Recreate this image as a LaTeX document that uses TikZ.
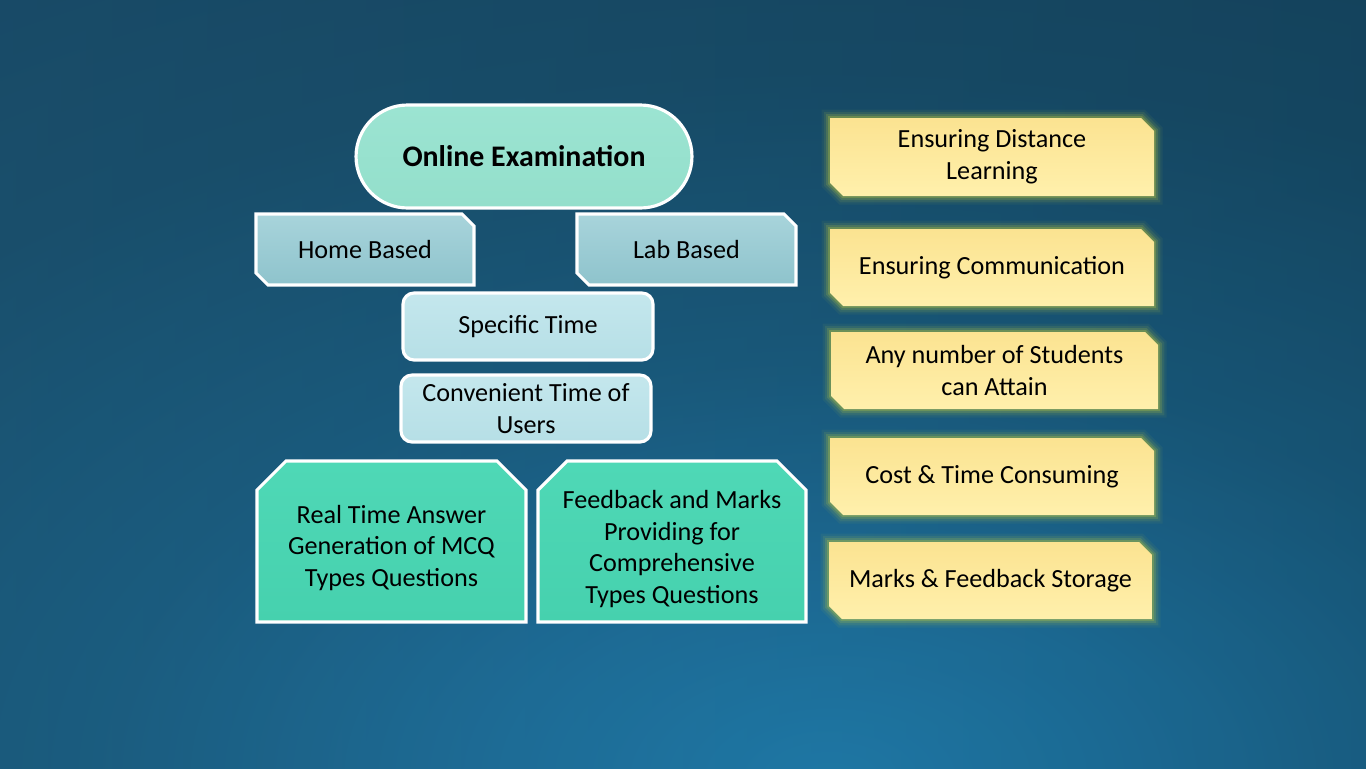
\documentclass[tikz,border=0pt]{standalone}
\usepackage{fontspec}
\setmainfont{Carlito}
\usetikzlibrary{shapes.misc}
\definecolor{bgBase}{HTML}{16445E}
\definecolor{bgL}{HTML}{22597A}
\definecolor{bgR}{HTML}{0C2E42}
\definecolor{mint}{HTML}{93DFCB}
\definecolor{mintT}{HTML}{9CE4D2}
\definecolor{steelT}{HTML}{A8D4DB}
\definecolor{steelB}{HTML}{8EC3CC}
\definecolor{paleT}{HTML}{C4E7ED}
\definecolor{paleB}{HTML}{B6DFE6}
\definecolor{teal}{HTML}{46D1AE}
\definecolor{tealT}{HTML}{4FD8B6}
\definecolor{yelT}{HTML}{FBE391}
\definecolor{yelB}{HTML}{FFF0AC}
\definecolor{glowc}{HTML}{C8D23A}
\pgfdeclareradialshading{bgglow}{\pgfpoint{0bp}{0bp}}{%
  rgb(0bp)=(0.13,0.53,0.73);
  rgb(6bp)=(0.12,0.46,0.64);
  rgb(13bp)=(0.10,0.37,0.51);
  rgb(22bp)=(0.09,0.30,0.41);
  rgb(32bp)=(0.086,0.265,0.37);
  rgb(50bp)=(0.086,0.265,0.37)}
\newcommand\snipNESW[5]{({#1},{#2}) -- ({#3-#5},{#2}) -- ({#3},{#2+#5}) -- ({#3},{#4}) -- ({#1+#5},{#4}) -- ({#1},{#4-#5}) -- cycle}
\newcommand\snipTOP[5]{({#1},{#2+#5}) -- ({#1+#5},{#2}) -- ({#3-#5},{#2}) -- ({#3},{#2+#5}) -- ({#3},{#4}) -- ({#1},{#4}) -- cycle}
\tikzset{
  txt/.style={font=\fontsize{14.9}{18.1}\selectfont, text=black, align=center, inner sep=0pt},
  wborder/.style={draw=white, line width=1.8pt},
  stadium/.style={txt, wborder, rounded rectangle, top color=mintT, bottom color=mint,
    minimum width=6.72cm, minimum height=2.06cm, font=\fontsize{17}{20}\selectfont\bfseries},
  steelbox/.style={wborder, top color=steelT, bottom color=steelB},
  roundbox/.style={txt, wborder, rectangle, rounded corners=0.22cm, top color=paleT, bottom color=paleB,
    minimum width=5.0cm, minimum height=1.34cm},
  tealbox/.style={wborder, top color=tealT, bottom color=teal},
  glowbox/.style={top color=yelT, bottom color=yelB,
    preaction={draw=glowc, line width=0.34cm, opacity=0.06},
    preaction={draw=glowc, line width=0.25cm, opacity=0.10},
    preaction={draw=glowc, line width=0.16cm, opacity=0.16},
    preaction={draw=glowc, line width=0.08cm, opacity=0.26}}
}
\begin{document}
\begin{tikzpicture}[x=0.02cm,y=-0.02cm]
\useasboundingbox (0,0) rectangle (1366,768);
\begin{scope}
\clip (0,0) rectangle (1366,768);
\fill[bgBase] (0,0) rectangle (1366,768);
\shade[shading=bgglow] (-570,-20) rectangle (2230,1580);
\shade[left color=bgL, right color=bgR, opacity=0.22] (0,0) rectangle (1366,768);
\end{scope}

% left column
\node[stadium] (online) at (524,156.5) {Online Examination};
\path[steelbox] \snipNESW{256}{214}{474}{285}{12};
\node[txt] (home) at (365,250) {Home Based};
\path[steelbox] \snipNESW{577}{214}{796}{285}{12};
\node[txt] (lab) at (686.5,250) {Lab Based};
\node[roundbox] (spec) at (528,326.5) {Specific Time};
\node[roundbox] (conv) at (526,408.5) {Convenient Time of\\Users};
\path[tealbox] \snipTOP{257}{461}{526}{622}{29};
\node[txt] (real) at (391.5,548) {Real Time Answer\\Generation of MCQ\\Types Questions};
\path[tealbox] \snipTOP{538}{461}{806}{622}{29};
\node[txt] (feed) at (672,549) {Feedback and Marks\\Providing for\\Comprehensive\\Types Questions};

% right column
\path[glowbox] \snipNESW{830}{118}{1154}{196}{13};
\node[txt] (dist) at (992,157) {Ensuring Distance\\Learning};
\path[glowbox] \snipNESW{830}{229}{1154}{306}{13};
\node[txt] (comm) at (992,267.5) {Ensuring Communication};
\path[glowbox] \snipNESW{831}{332}{1158}{409}{13};
\node[txt] (any) at (994.5,370.5) {Any number of Students\\can Attain};
\path[glowbox] \snipNESW{830}{438}{1154}{515}{13};
\node[txt] (cost) at (992,476.5) {Cost \& Time Consuming};
\path[glowbox] \snipNESW{829}{542}{1152}{619}{13};
\node[txt] (marks) at (990.5,580.5) {Marks \& Feedback Storage};
\end{tikzpicture}
\end{document}
